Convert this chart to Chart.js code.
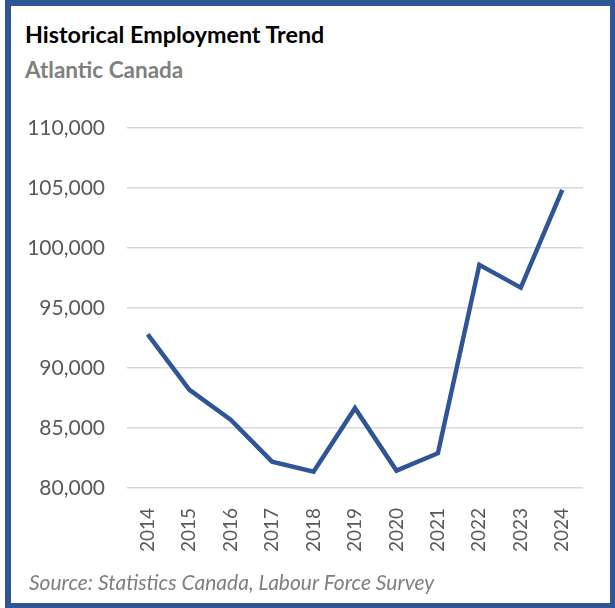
<!DOCTYPE html>
<html>
<head>
<meta charset="utf-8">
<script src="https://cdn.jsdelivr.net/npm/chart.js@4"></script>
<style>
    html, body { margin: 0; padding: 0; background: #ffffff; }
    body { width: 615px; height: 608px; position: relative; overflow: hidden; font-family: Lato, "Open Sans", sans-serif; }
    #frame {
        position: absolute; left: 5px; top: 0; width: 610px; height: 608px;
        box-sizing: border-box; border-style: solid; border-color: #2F5597;
        border-width: 6px 5px 5px 6px;
    }
    #chartCanvas { position: absolute; left: 0; top: 0; }
    .txt { position: absolute; white-space: nowrap; }
    #title { left: 25px; top: 20px; font-size: 23.3px; font-weight: bold; color: #000000; line-height: 28px; }
    #subtitle { left: 25px; top: 57px; font-size: 22.5px; font-weight: bold; color: #808080; line-height: 26px; }
    #source { left: 29px; top: 570px; font-size: 21px; font-style: italic; color: #7F7F7F; line-height: 24px; }
</style>
</head>
<body>
<div id="frame"></div>
<div class="txt" id="title">Historical Employment Trend</div>
<div class="txt" id="subtitle">Atlantic Canada</div>
<canvas id="chartCanvas" width="615" height="608"></canvas>
<div class="txt" id="source">Source: Statistics Canada, Labour Force Survey</div>

<script>
// Data
const years = ['2014', '2015', '2016', '2017', '2018', '2019', '2020', '2021', '2022', '2023', '2024'];
const employment = [92800, 88200, 85700, 82200, 81350, 86650, 81450, 82900, 98600, 96700, 104850];

// Axis range
const yMin = 80000;
const yMax = 110000;
const yStep = 5000;

const numberFormat = new Intl.NumberFormat('en-US');

const ctx = document.getElementById('chartCanvas').getContext('2d');
const employmentChart = new Chart(ctx, {
    type: 'line',
    data: {
        labels: years,
        datasets: [{
            label: 'Employment',
            data: employment,
            borderColor: '#2F5597',
            borderWidth: 4.5,
            pointRadius: 0,
            tension: 0,
            fill: false
        }]
    },
    options: {
        responsive: false,
        animation: false,
        devicePixelRatio: 1,
        layout: {
            padding: { left: 0, top: 128, right: 32, bottom: 50 }
        },
        scales: {
            x: {
                offset: true,
                grid: { display: false },
                border: { display: false },
                ticks: {
                    color: '#595959',
                    font: { family: 'Lato', size: 19 },
                    minRotation: 90,
                    maxRotation: 90,
                    padding: 12,
                    autoSkip: false
                },
                afterFit: (scale) => { scale.height = 70; }
            },
            y: {
                min: yMin,
                max: yMax,
                border: { display: false },
                grid: {
                    color: '#D9D9D9',
                    lineWidth: 1.5,
                    drawTicks: false
                },
                ticks: {
                    stepSize: yStep,
                    color: '#595959',
                    font: { family: 'Lato', size: 21 },
                    padding: 22,
                    callback: (value) => numberFormat.format(value)
                },
                afterFit: (scale) => { scale.width = 127; }
            }
        },
        plugins: {
            legend: { display: false },
            tooltip: { enabled: false }
        }
    }
});
</script>
</body>
</html>
